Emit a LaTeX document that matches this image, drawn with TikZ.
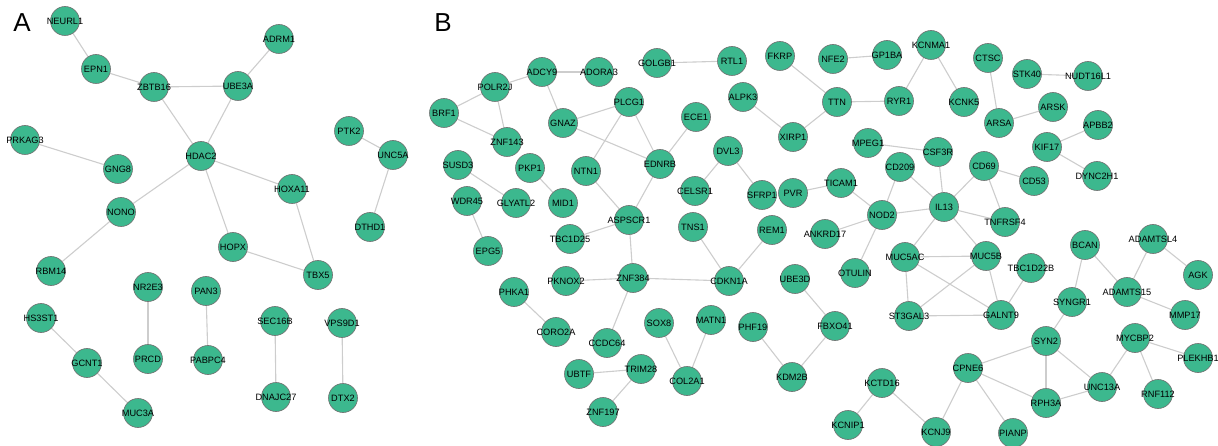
\documentclass[tikz,border=0pt]{standalone}
\usepackage{fontspec}
\setmainfont{Liberation Sans}
\usetikzlibrary{backgrounds}
\definecolor{nodefill}{RGB}{60,184,142}
\definecolor{nodeline}{RGB}{110,110,110}
\definecolor{edgec}{RGB}{205,205,205}
\tikzset{
  gene/.style={circle, draw=nodeline, line width=0.6pt, fill=nodefill, minimum size=29pt, inner sep=0pt},
  lab/.style={font=\fontsize{9.2}{9.2}\selectfont, text=black, inner sep=0pt},
  edge/.style={draw=edgec, line width=1.1pt},
  panel/.style={font=\fontsize{26}{26}\selectfont, text=black, inner sep=0pt}
}
\newcommand\gn[3]{\node[gene,label={[lab]center:#3}] (#1) at (#2) {};}
\begin{document}
\begin{tikzpicture}[x=1pt,y=-1pt]
\useasboundingbox (0,0) rectangle (1218,446);
\node[panel] (pA) at (22,23) {A};
\node[panel] (pB) at (443,23) {B};
% ---------- Panel A ----------
\gn{NEURL1}{65,21}{NEURL1}
\gn{EPN1}{96,69}{EPN1}
\gn{ZBTB16}{154,87}{ZBTB16}
\gn{UBE3A}{238,86}{UBE3A}
\gn{ADRM1}{279,39}{ADRM1}
\gn{PRKAG3}{25,140}{PRKAG3}
\gn{GNG8}{118,169}{GNG8}
\gn{HDAC2}{201,156}{HDAC2}
\gn{HOXA11}{292,189}{HOXA11}
\gn{NONO}{121,212}{NONO}
\gn{PTK2}{349,131}{PTK2}
\gn{UNC5A}{393,155}{UNC5A}
\gn{DTHD1}{370,227}{DTHD1}
\gn{RBM14}{51,271}{RBM14}
\gn{HOPX}{233,247}{HOPX}
\gn{TBX5}{318,275}{TBX5}
\gn{NR2E3}{148,287}{NR2E3}
\gn{PAN3}{206,291}{PAN3}
\gn{HS3ST1}{41,318}{HS3ST1}
\gn{PRCD}{148,359}{PRCD}
\gn{PABPC4}{208,360}{PABPC4}
\gn{SEC16B}{275,321}{SEC16B}
\gn{VPS9D1}{342,323}{VPS9D1}
\gn{GCNT1}{87,363}{GCNT1}
\gn{DNAJC27}{276,397}{DNAJC27}
\gn{DTX2}{343,398}{DTX2}
\gn{MUC3A}{138,413}{MUC3A}
% ---------- Panel B ----------
\gn{ADCY9}{542,72}{ADCY9}
\gn{ADORA3}{599,72}{ADORA3}
\gn{GOLGB1}{657,63}{GOLGB1}
\gn{POLR2J}{495,87}{POLR2J}
\gn{BRF1}{444,113}{BRF1}
\gn{PLCG1}{629,102}{PLCG1}
\gn{GNAZ}{563,123}{GNAZ}
\gn{ZNF143}{507,142}{ZNF143}
\gn{SUSD3}{458,165}{SUSD3}
\gn{PKP1}{530,168}{PKP1}
\gn{NTN1}{586,171}{NTN1}
\gn{EDNRB}{660,164}{EDNRB}
\gn{WDR45}{467,201}{WDR45}
\gn{GLYATL2}{516,203}{GLYATL2}
\gn{MID1}{563,203}{MID1}
\gn{ASPSCR1}{629,220}{ASPSCR1}
\gn{ECE1}{696,117}{ECE1}
\gn{DVL3}{728,151}{DVL3}
\gn{CELSR1}{695,191}{CELSR1}
\gn{TNS1}{693,227}{TNS1}
\gn{RTL1}{732,61}{RTL1}
\gn{FKRP}{780,56}{FKRP}
\gn{NFE2}{833,59}{NFE2}
\gn{GP1BA}{887,55}{GP1BA}
\gn{KCNMA1}{931,45}{KCNMA1}
\gn{ALPK3}{743,97}{ALPK3}
\gn{TTN}{837,102}{TTN}
\gn{RYR1}{899,101}{RYR1}
\gn{XIRP1}{793,137}{XIRP1}
\gn{MPEG1}{868,143}{MPEG1}
\gn{CSF3R}{938,152}{CSF3R}
\gn{CD209}{900,167}{CD209}
\gn{SFRP1}{762,195}{SFRP1}
\gn{PVR}{793,193}{PVR}
\gn{TICAM1}{841,183}{TICAM1}
\gn{NOD2}{882,215}{NOD2}
\gn{IL13}{944,207}{IL13}
\gn{CTSC}{988,58}{CTSC}
\gn{STK40}{1027,74}{STK40}
\gn{NUDT16L1}{1088,76}{NUDT16L1}
\gn{KCNK5}{964,102}{KCNK5}
\gn{ARSK}{1053,107}{ARSK}
\gn{ARSA}{999,123}{ARSA}
\gn{APBB2}{1098,125}{APBB2}
\gn{KIF17}{1047,147}{KIF17}
\gn{CD69}{984,166}{CD69}
\gn{CD53}{1034,181}{CD53}
\gn{DYNC2H1}{1097,176}{DYNC2H1}
\gn{TNFRSF4}{1005,222}{TNFRSF4}
\gn{MUC5AC}{905,257}{MUC5AC}
\gn{MUC5B}{986,256}{MUC5B}
\gn{TBC1D22B}{1031,268}{TBC1D22B}
\gn{ST3GAL3}{909,316}{ST3GAL3}
\gn{GALNT9}{1001,315}{GALNT9}
\gn{ANKRD17}{825,234}{ANKRD17}
\gn{REM1}{772,230}{REM1}
\gn{OTULIN}{855,273}{OTULIN}
\gn{TBC1D25}{570,239}{TBC1D25}
\gn{EPG5}{488,251}{EPG5}
\gn{PKNOX2}{566,281}{PKNOX2}
\gn{ZNF384}{633,278}{ZNF384}
\gn{PHKA1}{514,292}{PHKA1}
\gn{SOX8}{659,323}{SOX8}
\gn{CORO2A}{556,332}{CORO2A}
\gn{CCDC64}{607,343}{CCDC64}
\gn{UBTF}{579,374}{UBTF}
\gn{TRIM28}{641,369}{TRIM28}
\gn{ZNF197}{603,412}{ZNF197}
\gn{COL2A1}{687,381}{COL2A1}
\gn{CDKN1A}{729,281}{CDKN1A}
\gn{UBE3D}{795,279}{UBE3D}
\gn{MATN1}{711,320}{MATN1}
\gn{PHF19}{753,327}{PHF19}
\gn{FBXO41}{835,326}{FBXO41}
\gn{KDM2B}{792,377}{KDM2B}
\gn{KCTD16}{882,383}{KCTD16}
\gn{KCNIP1}{848,425}{KCNIP1}
\gn{KCNJ9}{936,432}{KCNJ9}
\gn{BCAN}{1085,245}{BCAN}
\gn{ADAMTSL4}{1153,239}{ADAMTSL4}
\gn{AGK}{1198,275}{AGK}
\gn{ADAMTS15}{1127,292}{ADAMTS15}
\gn{SYNGR1}{1072,302}{SYNGR1}
\gn{MMP17}{1185,315}{MMP17}
\gn{SYN2}{1046,341}{SYN2}
\gn{MYCBP2}{1135,338}{MYCBP2}
\gn{CPNE6}{968,368}{CPNE6}
\gn{PLEKHB1}{1198,358}{PLEKHB1}
\gn{UNC13A}{1102,387}{UNC13A}
\gn{RNF112}{1158,394}{RNF112}
\gn{RPH3A}{1046,403}{RPH3A}
\gn{PIANP}{1013,433}{PIANP}
% ---------- Edges ----------
\begin{pgfonlayer}{background}
\foreach \a/\b in {NEURL1/EPN1, EPN1/ZBTB16, ZBTB16/UBE3A, UBE3A/ADRM1, ZBTB16/HDAC2, UBE3A/HDAC2,
  HDAC2/HOXA11, HDAC2/NONO, HDAC2/HOPX, HOXA11/TBX5, HOPX/TBX5, NONO/RBM14, PRKAG3/GNG8,
  PTK2/UNC5A, UNC5A/DTHD1, NR2E3/PRCD, PAN3/PABPC4, SEC16B/DNAJC27, VPS9D1/DTX2,
  HS3ST1/GCNT1, GCNT1/MUC3A,
  POLR2J/ADCY9, ADCY9/ADORA3, POLR2J/BRF1, POLR2J/ZNF143, BRF1/ZNF143, ADCY9/GNAZ,
  GNAZ/PLCG1, GNAZ/EDNRB, PLCG1/NTN1, PLCG1/EDNRB, EDNRB/ECE1, EDNRB/ASPSCR1, NTN1/ASPSCR1,
  GOLGB1/RTL1, SUSD3/GLYATL2, PKP1/MID1, WDR45/EPG5, ASPSCR1/TBC1D25, ASPSCR1/ZNF384,
  PKNOX2/ZNF384, ZNF384/CDKN1A, ZNF384/CCDC64, PHKA1/CORO2A, UBTF/TRIM28, TRIM28/ZNF197,
  SOX8/COL2A1, MATN1/COL2A1, TNS1/CDKN1A, REM1/CDKN1A, DVL3/CELSR1, DVL3/SFRP1,
  FKRP/TTN, NFE2/GP1BA, TTN/RYR1, TTN/XIRP1, ALPK3/XIRP1, KCNMA1/RYR1, KCNMA1/KCNK5,
  CTSC/ARSA, ARSA/ARSK, STK40/NUDT16L1, KIF17/APBB2, KIF17/DYNC2H1, MPEG1/CSF3R, CSF3R/IL13,
  CD209/NOD2, CD209/IL13, PVR/TICAM1, TICAM1/NOD2, NOD2/IL13, NOD2/ANKRD17, NOD2/OTULIN,
  IL13/CD69, IL13/TNFRSF4, CD69/CD53, CD69/TNFRSF4, IL13/MUC5AC, IL13/MUC5B, MUC5AC/MUC5B,
  MUC5AC/ST3GAL3, MUC5AC/GALNT9, MUC5B/ST3GAL3, MUC5B/GALNT9, ST3GAL3/GALNT9, TBC1D22B/GALNT9,
  UBE3D/FBXO41, FBXO41/KDM2B, PHF19/KDM2B, KCTD16/KCNIP1, KCTD16/KCNJ9, CPNE6/KCNJ9,
  CPNE6/PIANP, CPNE6/SYN2, CPNE6/RPH3A, SYN2/RPH3A, SYN2/UNC13A, SYN2/SYNGR1, RPH3A/UNC13A,
  UNC13A/MYCBP2, MYCBP2/PLEKHB1, MYCBP2/RNF112, SYNGR1/BCAN, BCAN/ADAMTS15, ADAMTSL4/ADAMTS15,
  ADAMTS15/MMP17, ADAMTSL4/AGK}
  \draw[edge] (\a) -- (\b);
\end{pgfonlayer}
\end{tikzpicture}
\end{document}
